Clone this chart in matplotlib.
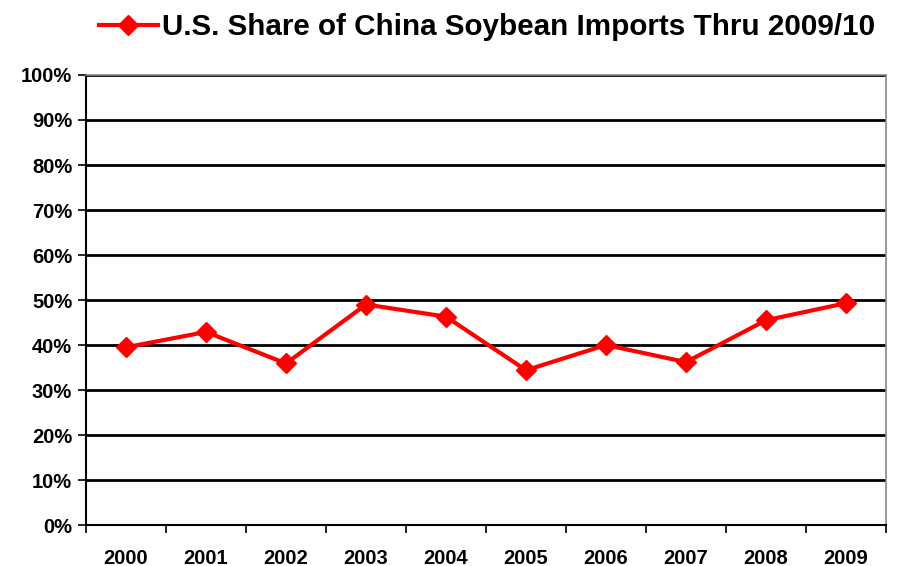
import matplotlib.pyplot as plt
import numpy as np
from matplotlib.ticker import FixedLocator, NullFormatter

years = ["2000", "2001", "2002", "2003", "2004", "2005", "2006", "2007", "2008", "2009"]
us_share = [39.5, 42.9, 35.9, 49.0, 46.3, 34.4, 40.0, 36.2, 45.5, 49.3]
label = "U.S. Share of China Soybean Imports Thru 2009/10"

plt.rcParams["font.family"] = ["Liberation Sans", "DejaVu Sans"]
plt.rcParams["font.weight"] = "bold"

fig = plt.figure(figsize=(9, 5.66), dpi=100)
ax = fig.add_axes([0.0956, 0.0724, 0.8888, 0.7951])

x = np.arange(len(years))
line, = ax.plot(x, us_share, color="#ff0000", lw=3, marker="D", ms=10,
                markeredgecolor="#ff0000", label=label, zorder=3, clip_on=False)

ax.set_xlim(-0.5, len(years) - 0.5)
ax.set_ylim(0, 100)
ax.set_yticks(np.arange(0, 101, 10))
ax.set_yticklabels([f"{v}%" for v in range(0, 101, 10)], fontsize=14.5, fontweight="bold")
ax.yaxis.grid(True, color="black", lw=2)
ax.set_axisbelow(True)

ax.set_xticks(x)
ax.set_xticklabels(years, fontsize=14.5, fontweight="bold")
ax.tick_params(axis="x", which="major", length=0, pad=17)
ax.xaxis.set_minor_locator(FixedLocator(np.arange(-0.5, len(years), 1)))
ax.xaxis.set_minor_formatter(NullFormatter())
ax.tick_params(axis="x", which="minor", length=6, width=1.2, color="black")
ax.tick_params(axis="y", length=6, width=1.2, pad=4)

for s in ["left", "bottom"]:
    ax.spines[s].set_color("black")
    ax.spines[s].set_linewidth(1.5)
for s in ["top", "right"]:
    ax.spines[s].set_color("#888888")
    ax.spines[s].set_linewidth(1.2)

fig.legend(handles=[line], loc="center", bbox_to_anchor=(0.541, 0.952),
           frameon=False, handlelength=2.0, handletextpad=0.15,
           prop={"weight": "bold", "size": 21.3})

plt.savefig("out.png", dpi=100)
plt.close()
